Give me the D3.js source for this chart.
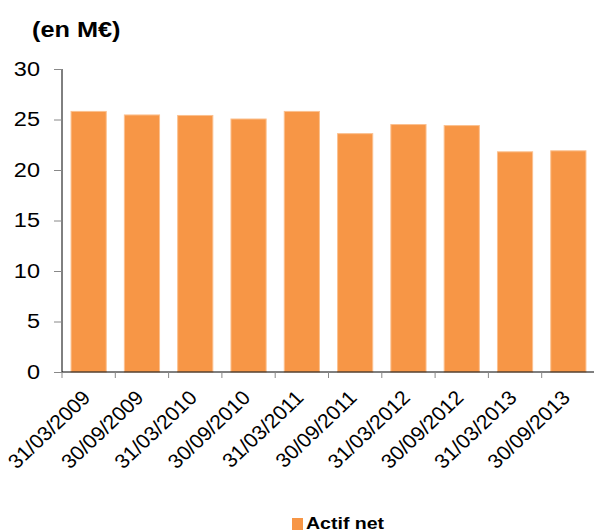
<!DOCTYPE html>
<html><head><meta charset="utf-8">
<script src="https://cdn.jsdelivr.net/npm/d3@7"></script>
<style>body{margin:0;background:#fff}svg{display:block;font-family:Arial,"Liberation Sans",sans-serif}</style>
</head><body>
<script>
const categories = ["31/03/2009","30/09/2009","31/03/2010","30/09/2010","31/03/2011","30/09/2011","31/03/2012","30/09/2012","31/03/2013","30/09/2013"];
const values = [25.8, 25.45, 25.4, 25.05, 25.8, 23.6, 24.5, 24.4, 21.8, 21.9];
const yTicks = [0,5,10,15,20,25,30];
const seriesName = "Actif net";
const unitLabel = "(en M€)";

const W = 594, H = 532;
const m = {left:62, right:-1};
const svg = d3.select("body").append("svg").attr("width",W).attr("height",H);

const x = d3.scaleBand().domain(categories).range([m.left, W - m.right]).paddingInner(0.34).paddingOuter(0.17);
const xb = d3.scaleBand().domain(categories).range([m.left, W - m.right]);
const y = d3.scaleLinear().domain([0,30]).range([372, 69]);

svg.append("text").attr("transform","translate(32,37) scale(1.15,1)")
  .attr("font-size",22).attr("font-weight","bold").text(unitLabel);

// bars
svg.selectAll("rect.bar").data(values).join("rect").attr("class","bar")
  .attr("x",(d,i)=>x(categories[i])).attr("width",x.bandwidth())
  .attr("y",d=>y(d)).attr("height",d=>y(0)-y(d))
  .attr("fill","#F79646").attr("stroke","#FBC08F").attr("stroke-width",1);

// y axis
const ya = svg.append("g").attr("transform",`translate(${m.left},0)`)
  .call(d3.axisLeft(y).tickValues(yTicks).tickSize(8).tickFormat(""));
ya.select(".domain").attr("stroke","#000").attr("d",`M0,${y(30)}V${y(0)}`);
ya.selectAll(".tick line").attr("stroke","#888");
svg.selectAll("text.ylbl").data(yTicks).join("text").attr("class","ylbl")
  .attr("transform",d=>`translate(40,${y(d)}) scale(1.12,1)`)
  .attr("dy","0.33em").attr("text-anchor","end").attr("font-size",21).attr("fill","#000").text(d=>d);

// x axis
const xg = svg.append("g").attr("transform",`translate(0,${y(0)})`);
xg.append("line").attr("x1",m.left).attr("x2",W).attr("y1",0).attr("y2",0).attr("stroke","#000");
const bounds = categories.map(c=>xb(c)).concat([xb(categories[categories.length-1])+xb.bandwidth()]);
xg.selectAll("line.tk").data(bounds).join("line").attr("class","tk")
  .attr("x1",d=>d).attr("x2",d=>d).attr("y1",0).attr("y2",6).attr("stroke","#888");
xg.selectAll("text.lbl").data(categories).join("text").attr("class","lbl")
  .attr("transform",d=>`translate(${xb(d)+xb.bandwidth()/2+3},${27}) scale(1.06,1) rotate(-45)`)
  .attr("text-anchor","end").attr("font-size",20).attr("fill","#000").text(d=>d);

// legend
svg.append("rect").attr("x",292).attr("y",518).attr("width",11).attr("height",12).attr("fill","#F79646");
svg.append("text").attr("transform","translate(306,529) scale(1.15,1)")
  .attr("font-size",17).attr("font-weight","bold").text(seriesName);
</script>
</body></html>
